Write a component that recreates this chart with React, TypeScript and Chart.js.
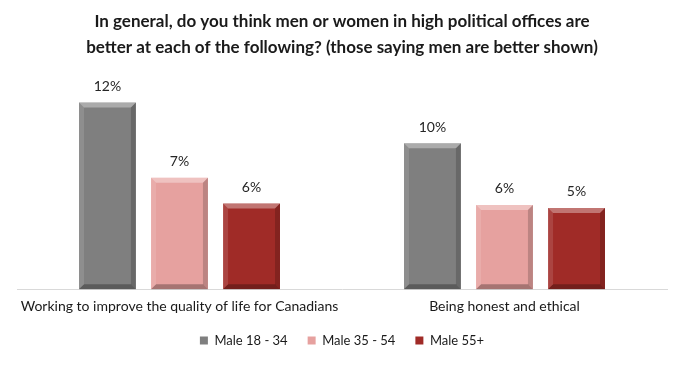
import React, { useEffect, useRef } from "react";
import { Chart, registerables } from "chart.js";
Chart.register(...registerables);

const titleLines = [
  "In general, do you think men or women in high political offices are",
  "better at each of the following? (those saying men are better shown)",
];
const categories = [
  "Working to improve the quality of life for Canadians",
  "Being honest and ethical",
];
const seriesNames = ["Male 18 - 34", "Male 35 - 54", "Male 55+"];
const male18to34 = [12.4, 9.7];
const male35to54 = [7.4, 5.6];
const male55plus = [5.7, 5.4];
const seriesColors = ["#7f7f7f", "#e6a19f", "#a02b27"];

const FONT = "Lato, 'Open Sans', sans-serif";

const bevelPlugin = {
  id: "bevel",
  afterDatasetsDraw(chart: any) {
    const ctx = chart.ctx;
    chart.data.datasets.forEach((ds: any, di: number) => {
      const meta = chart.getDatasetMeta(di);
      meta.data.forEach((bar: any) => {
        const w = bar.width;
        const l = bar.x - w / 2;
        const r = bar.x + w / 2;
        const t = bar.y;
        const b = bar.base;
        const s = 5;
        const poly = (pts: number[][], fill: string) => {
          ctx.beginPath();
          ctx.moveTo(pts[0][0], pts[0][1]);
          for (let i = 1; i < pts.length; i++) ctx.lineTo(pts[i][0], pts[i][1]);
          ctx.closePath();
          ctx.fillStyle = fill;
          ctx.fill();
        };
        ctx.save();
        poly([[l, t], [r, t], [r - s, t + s], [l + s, t + s]], "rgba(255,255,255,0.35)");
        poly([[l, t], [l + s, t + s], [l + s, b - s], [l, b]], "rgba(255,255,255,0.12)");
        poly([[r, t], [r, b], [r - s, b - s], [r - s, t + s]], "rgba(0,0,0,0.18)");
        poly([[l, b], [r, b], [r - s, b - s], [l + s, b - s]], "rgba(0,0,0,0.28)");
        ctx.restore();
      });
    });
  },
};

const valueLabelPlugin = {
  id: "valueLabels",
  afterDatasetsDraw(chart: any) {
    const ctx = chart.ctx;
    ctx.save();
    ctx.font = `14px ${FONT}`;
    ctx.fillStyle = "#262626";
    ctx.textAlign = "center";
    ctx.textBaseline = "middle";
    chart.data.datasets.forEach((ds: any, di: number) => {
      const meta = chart.getDatasetMeta(di);
      meta.data.forEach((bar: any, i: number) => {
        const v = ds.data[i];
        ctx.fillText(`${Math.round(v)}%`, bar.x, bar.y - 16);
      });
    });
    ctx.restore();
  },
};

export default function App() {
  const ref = useRef<HTMLCanvasElement>(null);
  useEffect(() => {
    if (!ref.current) return;
    const data = [male18to34, male35to54, male55plus];
    const chart = new Chart(ref.current, {
      type: "bar",
      data: {
        labels: categories,
        datasets: seriesNames.map((name, i) => ({
          label: name,
          data: data[i],
          backgroundColor: seriesColors[i],
          borderWidth: 0,
          categoryPercentage: 0.665,
          barPercentage: 0.79,
        })),
      },
      options: {
        animation: false,
        responsive: true,
        maintainAspectRatio: false,
        layout: { padding: { left: 9, right: 9, top: 0, bottom: 0 } },
        scales: {
          x: {
            grid: { display: false, drawTicks: false },
            border: { display: true, color: "#d9d9d9", width: 1 },
            ticks: { font: { family: FONT, size: 14 }, color: "#1a1a1a", padding: 9, maxRotation: 0 },
            afterFit: (scale: any) => {
              scale.height -= 10;
            },
          },
          y: { display: false, min: 0, max: 14 },
        },
        plugins: {
          title: {
            display: true,
            text: titleLines,
            color: "#1a1a1a",
            font: { family: FONT, size: 17, weight: "bold", lineHeight: 1.5 },
            padding: { top: 1, bottom: 18.5 },
          },
          legend: {
            position: "bottom",
            labels: {
              boxWidth: 8,
              boxHeight: 8,
              padding: 20,
              color: "#1a1a1a",
              font: { family: FONT, size: 13 },
            },
          },
          tooltip: { enabled: false },
        },
      },
      plugins: [bevelPlugin, valueLabelPlugin],
    });
    return () => chart.destroy();
  }, []);
  return (
    <div style={{ width: "100%", height: 349, position: "relative" }}>
      <canvas ref={ref} />
    </div>
  );
}
